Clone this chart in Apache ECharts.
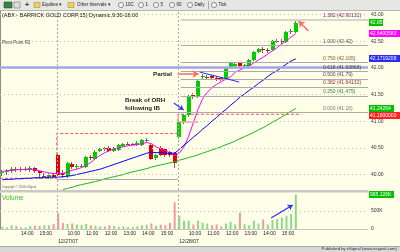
<!DOCTYPE html>
<html><head><meta charset="utf-8">
<script src="https://cdn.jsdelivr.net/npm/echarts@6/dist/echarts.min.js"></script>
<style>html,body{margin:0;padding:0;background:#fffee9;overflow:hidden}#c{width:400px;height:252px}</style>
</head><body><div id="c"></div>
<script>
// ---------------- data ----------------
var sessionDates = ['12/26/07', '12/27/07', '12/28/07'];
var sessionStarts = ['13:00', '9:30', '9:30'];
var barsPerSession = [12, 26, 26];
var emptySlots = 15;

var opens = [
  40.02, 40.04, 40.07, 40.11, 40.08, 40.10, 40.09, 40.12, 40.06, 39.98, 39.95, 40.00,
  40.36, 40.03, 39.97, 40.19, 40.14, 40.15, 40.15, 40.33, 40.30, 40.45, 40.49, 40.50, 40.45, 40.46, 40.54, 40.57, 40.57, 40.56, 40.56, 40.63, 40.55, 40.31, 40.50, 40.47, 40.42, 40.40,
  40.70, 40.98, 41.11, 41.49, 41.45, 41.82, 41.82, 41.85, 41.81, 41.81, 41.79, 42.00, 42.03, 42.09, 42.03, 42.04, 42.14, 42.29, 42.36, 42.33, 42.33, 42.50, 42.50, 42.49, 42.68, 42.68
];
var closes = [
  40.05, 40.07, 40.11, 40.08, 40.11, 40.11, 40.13, 40.06, 40.03, 39.98, 39.99, 39.96,
  39.99, 40.00, 40.21, 40.14, 40.16, 40.16, 40.32, 40.31, 40.43, 40.47, 40.47, 40.45, 40.50, 40.55, 40.58, 40.58, 40.58, 40.59, 40.64, 40.64, 40.29, 40.36, 40.36, 40.36, 40.36, 40.21,
  40.98, 41.11, 41.48, 41.46, 41.76, 41.84, 41.83, 41.81, 41.79, 41.80, 42.00, 42.09, 42.08, 42.04, 42.06, 42.14, 42.29, 42.35, 42.33, 42.33, 42.50, 42.51, 42.51, 42.68, 42.69, 42.85
];
var lows = [
  39.98, 39.99, 40.03, 40.05, 40.04, 40.06, 40.05, 40.03, 39.92, 39.93, 39.92, 39.93,
  39.96, 39.94, 39.94, 40.10, 40.10, 40.12, 40.13, 40.27, 40.28, 40.42, 40.44, 40.42, 40.43, 40.44, 40.52, 40.55, 40.55, 40.54, 40.54, 40.61, 40.27, 40.28, 40.34, 40.33, 40.33, 40.12,
  40.66, 40.95, 41.08, 41.42, 41.43, 41.79, 41.78, 41.78, 41.76, 41.76, 41.77, 41.98, 42.01, 42.01, 42.00, 42.02, 42.12, 42.27, 42.28, 42.28, 42.31, 42.47, 42.45, 42.47, 42.63, 42.66
];
var highs = [
  40.08, 40.10, 40.14, 40.15, 40.14, 40.15, 40.16, 40.14, 40.07, 40.03, 40.02, 40.02,
  40.40, 40.08, 40.23, 40.23, 40.20, 40.19, 40.34, 40.36, 40.46, 40.50, 40.51, 40.53, 40.52, 40.57, 40.60, 40.61, 40.60, 40.62, 40.66, 40.68, 40.60, 40.39, 40.53, 40.50, 40.45, 40.42,
  41.00, 41.14, 41.50, 41.52, 41.78, 41.88, 41.87, 41.87, 41.84, 41.83, 42.02, 42.11, 42.11, 42.11, 42.08, 42.16, 42.31, 42.37, 42.40, 42.38, 42.52, 42.54, 42.55, 42.70, 42.73, 42.90
];
var volumes = [
  60000, 45000, 105000, 88000, 50000, 45000, 80000, 90000, 90000, 105000, 105000, 140000,
  440000, 165000, 140000, 155000, 125000, 105000, 140000, 105000, 88000, 70000, 70000, 105000, 88000, 60000, 70000, 50000, 50000, 80000, 105000, 120000, 155000, 88000, 120000, 105000, 165000, 745000,
  368000, 230000, 230000, 125000, 230000, 175000, 150000, 105000, 125000, 70000, 150000, 200000, 130000, 455000, 130000, 105000, 230000, 150000, 265000, 125000, 250000, 280000, 320000, 370000, 415000, 965000
];
var maFast = [
  40.06, 40.07, 40.08, 40.09, 40.09, 40.10, 40.10, 40.09, 40.07, 40.05, 40.03, 40.02,
  40.02, 40.02, 40.05, 40.08, 40.10, 40.13, 40.17, 40.23, 40.30, 40.36, 40.41, 40.45, 40.48, 40.50, 40.52, 40.54, 40.55, 40.56, 40.58, 40.60, 40.58, 40.52, 40.48, 40.45, 40.40, 40.35,
  40.40, 40.52, 40.72, 40.97, 41.22, 41.42, 41.54, 41.63, 41.69, 41.74, 41.79, 41.83, 41.92, 41.96, 42.00, 42.04, 42.09, 42.15, 42.20, 42.26, 42.32, 42.38, 42.45, 42.51, 42.58, 42.64
];
var maMid = [
  39.90, 39.91, 39.91, 39.92, 39.92, 39.93, 39.93, 39.94, 39.94, 39.94, 39.95, 39.95,
  39.95, 39.96, 39.97, 39.98, 40.00, 40.02, 40.04, 40.06, 40.08, 40.10, 40.13, 40.16, 40.19, 40.22, 40.25, 40.28, 40.31, 40.34, 40.37, 40.40, 40.42, 40.41, 40.41, 40.40, 40.40, 40.40,
  40.47, 40.55, 40.62, 40.70, 40.77, 40.85, 40.92, 41.00, 41.07, 41.15, 41.22, 41.30, 41.37, 41.45, 41.51, 41.58, 41.64, 41.71, 41.77, 41.84, 41.90, 41.95, 42.01, 42.07, 42.13, 42.17
];
var maSlow = [
  null, null, null, null, null, null, null, null, null, null, null, null,
  null, 39.72, 39.74, 39.76, 39.79, 39.81, 39.83, 39.85, 39.87, 39.89, 39.92, 39.94, 39.96, 39.98, 40.00, 40.03, 40.05, 40.07, 40.09, 40.11, 40.14, 40.16, 40.18, 40.20, 40.22, 40.24,
  40.27, 40.29, 40.32, 40.34, 40.37, 40.40, 40.43, 40.46, 40.49, 40.52, 40.56, 40.59, 40.63, 40.67, 40.71, 40.75, 40.79, 40.84, 40.88, 40.93, 40.98, 41.03, 41.08, 41.13, 41.19, 41.24
];
var openingRangeHighs = [39.93, 40.77, 41.13];
var priorLow = 39.91;
var ibHigh = 40.985;
var pivotR2 = 42.02;
var fibRatios = ['1.382', '1.000', '0.750', '0.618', '0.500', '0.382', '0.250', '0.000'];
var fibPrices = [42.90132, 42.42, 42.105, 41.93868, 41.79, 41.64132, 41.475, 41.16];
var fibLabelTexts = ['1.382 (42.90132)', '1.000 (42.42)', '0.750 (42.105)', '0.618 (41.93868)', '0.500 (41.79)', '0.382 (41.64132)', '0.250 (41.475)', '0.000 (41.16)'];
var priceTicks = [40, 40.5, 41, 41.5, 42, 42.5, 43];
var volumeTicks = [0, 500000];
var boxTexts = { last: '42.85', fast: '42.6400583', mid: '42.1719208', slow: '41.24264', orh: '41.1600000', vol: '965.126K' };
// annotations (bar-slot position, price / volume)
var partialArrow = [[38.17, 41.885], [42.63, 41.885]];
var breakArrow = [[37.3, 41.341], [39.44, 41.21]];
var topArrow = [[66.2, 42.691], [64.1, 42.878]];
var flagLine = [[42.85, 41.922], [51.35, 41.735]];
var volArrow = [[58.2, 305600], [62.83, 667000]];

// ---------------- build ----------------
var cats = [], times = [], dates = [];
(function () {
  for (var s = 0; s < sessionDates.length; s++) {
    var p = sessionStarts[s].split(':');
    var m0 = (+p[0]) * 60 + (+p[1]);
    for (var k = 0; k < barsPerSession[s]; k++) {
      var mm = m0 + k * 15;
      var t = Math.floor(mm / 60) + ':' + ('0' + (mm % 60)).slice(-2);
      cats.push(sessionDates[s] + ' ' + t);
      times.push(t);
      dates.push(k === 0 ? sessionDates[s] : '');
    }
  }
  for (var e = 0; e < emptySlots; e++) { cats.push('pad' + e); times.push(''); dates.push(''); }
})();
var nSlots = cats.length;
var b1 = barsPerSession[0] + 0.2;
var b2 = barsPerSession[0] + barsPerSession[1] + 0.2;
var lastIdx = opens.length - 1;

var candleData = opens.map(function (o, i) { return [i, o, closes[i], lows[i], highs[i]]; });
var orhData = [[0, openingRangeHighs[0]], [b1, openingRangeHighs[0]], [b1, openingRangeHighs[1]],
  [b2, openingRangeHighs[1]], [b2, openingRangeHighs[2]], [b2 + barsPerSession[2], openingRangeHighs[2]]];

var FF = '"Liberation Sans", Arial, sans-serif';

function renderCandle(params, api) {
  var i = api.value(0), o = api.value(1), c = api.value(2), l = api.value(3), h = api.value(4);
  var pH = api.coord([i, h]), pL = api.coord([i, l]), pO = api.coord([i, o]), pC = api.coord([i, c]);
  var cx = Math.round(pO[0]);
  var top = Math.round(Math.min(pO[1], pC[1])), bot = Math.round(Math.max(pO[1], pC[1]));
  var kids = [{ type: 'line', shape: { x1: cx - 0.5, y1: Math.round(pH[1]), x2: cx - 0.5, y2: Math.round(pL[1]) }, style: { stroke: '#6c6c6c', lineWidth: 1 } }];
  if (bot - top < 1) {
    kids.push({ type: 'line', shape: { x1: cx - 2, y1: top + 0.5, x2: cx + 2, y2: top + 0.5 }, style: { stroke: '#555', lineWidth: 1 } });
  } else {
    kids.push({ type: 'rect', shape: { x: cx - 2, y: top, width: 4, height: bot - top }, style: { fill: c >= o ? '#00cc00' : '#e00000', stroke: null } });
  }
  return { type: 'group', children: kids };
}

var dotted = { color: '#c4c4bc', type: [1, 3], width: 1 };
var priceMarks = [];
priceTicks.forEach(function (t) { priceMarks.push({ yAxis: t, lineStyle: dotted }); });
priceMarks.push({ xAxis: b1, lineStyle: { color: '#a8a8a8', type: [2, 2], width: 1 } });
priceMarks.push({ xAxis: b2, lineStyle: { color: '#a8a8a8', type: [2, 2], width: 1 } });
priceMarks.push({ yAxis: pivotR2, lineStyle: { color: '#a4a4ec', width: 2.5, type: 'solid' } });
fibPrices.forEach(function (p, k) {
  var start = (k === fibPrices.length - 1) ? b1 : b2 + 0.6;
  priceMarks.push([{ coord: [start, p], lineStyle: { color: k === 0 ? '#d6d6c8' : '#aaaaaa', width: k === 0 ? 2 : 1, type: 'solid' } }, { coord: [nSlots, p] }]);
});
priceMarks.push([{ coord: [b1, priorLow], lineStyle: { color: '#aaaaaa', width: 1, type: 'solid' } }, { coord: [b2, priorLow] }]);
priceMarks.push([{ coord: [b2 + 0.2, ibHigh], lineStyle: { color: '#f4a4a4', width: 1.5, type: 'solid' } }, { coord: [b2 + 4.4, ibHigh] }]);
priceMarks.push([{ coord: flagLine[0], lineStyle: { color: '#2a2aff', width: 1, type: 'solid' } }, { coord: flagLine[1] }]);
priceMarks.push([{ coord: partialArrow[0], lineStyle: { color: '#ff6a6a', width: 1.5, type: 'solid' } }, { coord: partialArrow[1], symbol: 'arrow', symbolSize: [6, 6] }]);
priceMarks.push([{ coord: breakArrow[0], lineStyle: { color: '#3a3aff', width: 1.2, type: 'solid' } }, { coord: breakArrow[1], symbol: 'arrow', symbolSize: [5, 5] }]);
priceMarks.push([{ coord: topArrow[0], lineStyle: { color: '#ff6a6a', width: 1.5, type: 'solid' } }, { coord: topArrow[1], symbol: 'arrow', symbolSize: [6, 6] }]);

var volMarks = [
  { yAxis: 500000, lineStyle: dotted },
  { xAxis: b1, lineStyle: { color: '#a8a8a8', type: [2, 2], width: 1 } },
  { xAxis: b2, lineStyle: { color: '#a8a8a8', type: [2, 2], width: 1 } },
  [{ coord: volArrow[0], lineStyle: { color: '#2a2aff', width: 1.2, type: 'solid' } }, { coord: volArrow[1], symbol: 'arrow', symbolSize: [5, 5] }]
];

var L = -3.5, R = 32;
var chart = echarts.init(document.getElementById('c'), null, { renderer: 'canvas', width: 400, height: 252 });
var option = {
  animation: false,
  backgroundColor: '#fffee9',
  grid: [
    { left: L, right: R, top: 11, height: 179 },
    { left: L, right: R, top: 193, height: 36 }
  ],
  xAxis: [
    { type: 'category', gridIndex: 0, data: cats, show: false, boundaryGap: true },
    { type: 'category', gridIndex: 1, data: cats, boundaryGap: true,
      axisLine: { show: true, lineStyle: { color: '#c8c8c8' } }, axisTick: { show: false },
      axisLabel: { interval: function (i) { return i > 0 && /:00$/.test(times[i]); },
        formatter: function (v, i) { return times[i]; },
        align: 'left', fontSize: 5, color: '#222', margin: 2.5, fontFamily: FF } },
    { type: 'category', gridIndex: 1, data: cats, boundaryGap: true, position: 'bottom', offset: 8,
      axisLine: { show: false }, axisTick: { show: false },
      axisLabel: { interval: function (i) { return i > 0 && dates[i] !== ''; },
        formatter: function (v, i) { return dates[i]; },
        align: 'left', fontSize: 5, color: '#222', margin: 2.5, fontFamily: FF } },
    { type: 'value', gridIndex: 0, min: 0, max: nSlots, show: false },
    { type: 'value', gridIndex: 1, min: 0, max: nSlots, show: false }
  ],
  yAxis: [
    { type: 'value', gridIndex: 0, position: 'right', min: 39.71, max: 43.066, scale: true,
      axisLine: { show: true, lineStyle: { color: '#8c8c8c' } }, axisTick: { show: false }, splitLine: { show: false },
      axisLabel: { customValues: priceTicks, formatter: function (v) { return v.toFixed(2); }, fontSize: 5, color: '#333', margin: 3, fontFamily: FF } },
    { type: 'value', gridIndex: 1, position: 'right', min: 0, max: 1000000,
      axisLine: { show: true, lineStyle: { color: '#8c8c8c' } }, axisTick: { show: false }, splitLine: { show: false },
      axisLabel: { customValues: volumeTicks, formatter: function (v) { return v === 0 ? '0' : (v / 1000) + 'K'; }, fontSize: 5, color: '#333', margin: 3, fontFamily: FF } }
  ],
  series: [
    { type: 'line', xAxisIndex: 3, yAxisIndex: 0, data: [[0, 41]], showSymbol: false, silent: true, lineStyle: { opacity: 0 }, z: 1,
      markLine: { silent: true, symbol: ['none', 'none'], label: { show: false }, animation: false, data: priceMarks } },
    { type: 'line', xAxisIndex: 3, yAxisIndex: 0, data: orhData, showSymbol: false, silent: true, z: 2,
      lineStyle: { color: '#ff5050', width: 1, type: [3, 2] } },
    { type: 'custom', xAxisIndex: 0, yAxisIndex: 0, data: candleData, renderItem: renderCandle,
      encode: { x: 0, y: [1, 2, 3, 4] }, z: 3, silent: true },
    { type: 'line', xAxisIndex: 0, yAxisIndex: 0, data: maFast, showSymbol: false, silent: true, z: 4, lineStyle: { color: '#ff00ff', width: 1 } },
    { type: 'line', xAxisIndex: 0, yAxisIndex: 0, data: maMid, showSymbol: false, silent: true, z: 4, lineStyle: { color: '#0000ff', width: 1 } },
    { type: 'line', xAxisIndex: 0, yAxisIndex: 0, data: maSlow, showSymbol: false, silent: true, z: 4, lineStyle: { color: '#1fb41f', width: 1 } },
    { type: 'bar', xAxisIndex: 1, yAxisIndex: 1, data: volumes, barWidth: 2, silent: true, z: 3,
      itemStyle: { color: function (p) { return closes[p.dataIndex] >= opens[p.dataIndex] ? '#8cd98c' : '#f29a9a'; } } },
    { type: 'line', xAxisIndex: 4, yAxisIndex: 1, data: [[0, 0]], showSymbol: false, silent: true, lineStyle: { opacity: 0 }, z: 1,
      markLine: { silent: true, symbol: ['none', 'none'], label: { show: false }, animation: false, data: volMarks } }
  ]
};
chart.setOption(option);

// ---------------- text / chrome overlays ----------------
function py(p) { return chart.convertToPixel({ yAxisIndex: 0 }, p); }
function pvol(v) { return chart.convertToPixel({ yAxisIndex: 1 }, v); }
function txt(x, y, s, font, fill, align) {
  return { type: 'text', z: 100, silent: true, style: { x: x, y: y, text: s, font: font, fill: fill, align: align || 'left', verticalAlign: 'middle' } };
}
var g = [];
// toolbar
g.push({ type: 'rect', z: 90, shape: { x: 0, y: 0, width: 400, height: 10 }, style: { fill: '#e6e6e2' } });
g.push({ type: 'line', z: 91, shape: { x1: 0, y1: 10.5, x2: 400, y2: 10.5 }, style: { stroke: '#b4b4b4', lineWidth: 1 } });
g.push({ type: 'rect', z: 92, shape: { x: 4, y: 2, width: 8, height: 6 }, style: { fill: '#2e8b3e', stroke: '#333', lineWidth: 0.5 } });
g.push({ type: 'rect', z: 92, shape: { x: 14, y: 2, width: 6, height: 6 }, style: { fill: '#dcdce8', stroke: '#666', lineWidth: 0.5 } });
g.push(txt(25, 5, '+', 'bold 7px ' + FF, '#333', 'left'));
g.push({ type: 'rect', z: 92, shape: { x: 34, y: 2.5, width: 6, height: 5 }, style: { fill: '#f2d060', stroke: '#a08020', lineWidth: 0.5 } });
g.push(txt(42, 5, 'Equities \u25BE', '4.5px ' + FF, '#222'));
g.push({ type: 'rect', z: 92, shape: { x: 68, y: 2.5, width: 6, height: 5 }, style: { fill: '#f2d060', stroke: '#a08020', lineWidth: 0.5 } });
g.push(txt(77, 5, 'Other Intervals \u25BE', '4.5px ' + FF, '#222'));
[[121, '10C'], [141, '1'], [156, '5'], [172, '60'], [190, 'Daily'], [214, 'Tick']].forEach(function (it) {
  g.push({ type: 'circle', z: 92, shape: { cx: it[0], cy: 5, r: 2.6 }, style: { fill: '#f4f4f4', stroke: '#555', lineWidth: 0.6 } });
  g.push(txt(it[0] + 4.5, 5, it[1], '4.5px ' + FF, '#222'));
});
g.push({ type: 'line', z: 92, shape: { x1: 208.5, y1: 1, x2: 208.5, y2: 9 }, style: { stroke: '#aaa', lineWidth: 1 } });
// title and annotations
g.push(txt(2, 15.5, '(ABX - BARRICK GOLD CORP,15) Dynamic,9:30-16:00', '5.5px ' + FF, '#111'));
g.push(txt(2, 43, 'Pivot Point R2', '4.5px ' + FF, '#444'));
g.push(txt(172, 74, 'Partial', 'bold 6.2px ' + FF, '#222', 'right'));
g.push(txt(125, 100, 'Break of ORH', 'bold 6.2px ' + FF, '#222'));
g.push(txt(125, 108, 'following IB', 'bold 6.2px ' + FF, '#222'));
g.push(txt(2, 187, 'Copyright \u00A9 2006 eSignal', '3px ' + FF, '#666'));
// panel separator
g.push({ type: 'rect', z: 90, shape: { x: 0, y: 190, width: 368, height: 2.5 }, style: { fill: '#c8c8c4' } });
g.push(txt(2, 198, 'Volume', '6.5px ' + FF, '#3cc03c'));
// fib labels
var fibColors = ['#7a1a7a', '#555555', '#8a5a2a', '#444444', '#5a3a4a', '#8a3a2a', '#2e8b2e', '#777777'];
fibPrices.forEach(function (p, k) { g.push(txt(323, py(p) - 4, fibLabelTexts[k], '5px ' + FF, fibColors[k])); });
// right value boxes
var boxes = [
  { y: py(closes[lastIdx]), t: boxTexts.last, c: '#00c000', w: 14 },
  { y: py(maFast[lastIdx]), t: boxTexts.fast, c: '#ff00ff', w: 31 },
  { y: py(maMid[lastIdx]), t: boxTexts.mid, c: '#2a2aff', w: 31 },
  { y: py(maSlow[lastIdx]), t: boxTexts.slow, c: '#00c000', w: 25 },
  { y: py(openingRangeHighs[2]), t: boxTexts.orh, c: '#ff2020', w: 31 }
];
boxes.sort(function (a, b) { return a.y - b.y; });
for (var k = 1; k < boxes.length; k++) { if (boxes[k].y < boxes[k - 1].y + 7.5) boxes[k].y = boxes[k - 1].y + 7.5; }
boxes.push({ y: pvol(volumes[lastIdx]), t: boxTexts.vol, c: '#00c000', w: 25 });
boxes.forEach(function (b) {
  g.push({ type: 'rect', z: 95, shape: { x: 369, y: Math.round(b.y - 3.5), width: b.w, height: 7 }, style: { fill: b.c } });
  g.push(txt(370, Math.round(b.y - 3.5) + 3.6, b.t, '5px ' + FF, '#ffffff'));
});
// bottom strip
g.push({ type: 'rect', z: 90, shape: { x: 0, y: 246, width: 400, height: 6 }, style: { fill: '#d8d8d4' } });
g.push({ type: 'line', z: 91, shape: { x1: 0, y1: 246.5, x2: 400, y2: 246.5 }, style: { stroke: '#a8a8a8', lineWidth: 1 } });
g.push(txt(397, 249.3, 'Published by eSignal (www.esignal.com)', '4.2px ' + FF, '#333', 'right'));
chart.setOption({ graphic: g });
</script>
</body></html>
